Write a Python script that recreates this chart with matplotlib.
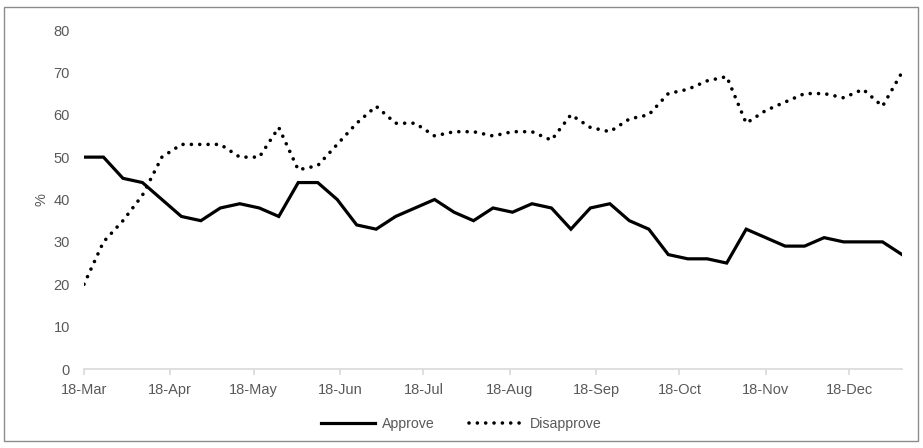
import matplotlib
matplotlib.use("Agg")
import matplotlib.pyplot as plt
import matplotlib.dates as mdates
from matplotlib.patches import Rectangle
import pandas as pd

plt.rcParams['font.family'] = ['Liberation Sans', 'DejaVu Sans']

# ================= DATA =================
dates = pd.date_range("2018-03-01", periods=43, freq="7D")

approve = [50, 50, 45, 44, 40, 36, 35, 38, 39, 38, 36, 44, 44, 40, 34, 33,
           36, 38, 40, 37, 35, 38, 37, 39, 38, 33, 38, 39, 35, 33, 27, 26,
           26, 25, 33, 31, 29, 29, 31, 30, 30, 30, 27]

disapprove = [20, 30, 35, 41, 50, 53, 53, 53, 50, 50, 57, 47, 48, 53, 58, 62,
              58, 58, 55, 56, 56, 55, 56, 56, 54, 60, 57, 56, 59, 60, 65, 66,
              68, 69, 58, 61, 63, 65, 65, 64, 66, 62, 70]

# ================= PLOT =================
W, H = 923, 448
fig = plt.figure(figsize=(W / 100, H / 100), dpi=100)
ax = fig.add_axes([84 / W, 1 - 369 / H, (902 - 84) / W, (369 - 30) / H])

ax.plot(dates, approve, color='black', lw=2.3, solid_joinstyle='miter',
        label='Approve')
ax.plot(dates, disapprove, color='black', lw=2.6,
        linestyle=(0, (0.01, 2.3)), dash_capstyle='round', label='Disapprove')

ax.set_xlim(dates[0], dates[-1])
ax.set_ylim(0, 80)
ax.set_yticks(range(0, 81, 10))

ax.xaxis.set_major_locator(mdates.MonthLocator())
ax.xaxis.set_major_formatter(mdates.DateFormatter('%y-%b'))

for side in ['top', 'right', 'left']:
    ax.spines[side].set_visible(False)
ax.spines['bottom'].set_color('#d9d9d9')
ax.spines['bottom'].set_linewidth(1.2)

ax.tick_params(axis='x', colors='#d9d9d9', length=4, width=1.2,
               labelcolor='#595959', labelsize=10.5, pad=6)
ax.tick_params(axis='y', length=0, labelcolor='#595959', labelsize=10.5, pad=10)

ax.set_ylabel('%', color='#595959', fontsize=10.5, labelpad=4)

leg = fig.legend(loc='center', bbox_to_anchor=(0.5, 1 - 424 / H), ncol=2,
                 frameon=False, fontsize=10.2, handlelength=3.8,
                 columnspacing=2.4, handletextpad=0.5)
for t in leg.get_texts():
    t.set_color('#595959')

fig.patches.append(Rectangle((3.5 / W, 1 - 441 / H), 914.5 / W, 434 / H,
                             transform=fig.transFigure, fill=False,
                             edgecolor='#8c8c8c', lw=1))

fig.savefig('out.png', dpi=100)
